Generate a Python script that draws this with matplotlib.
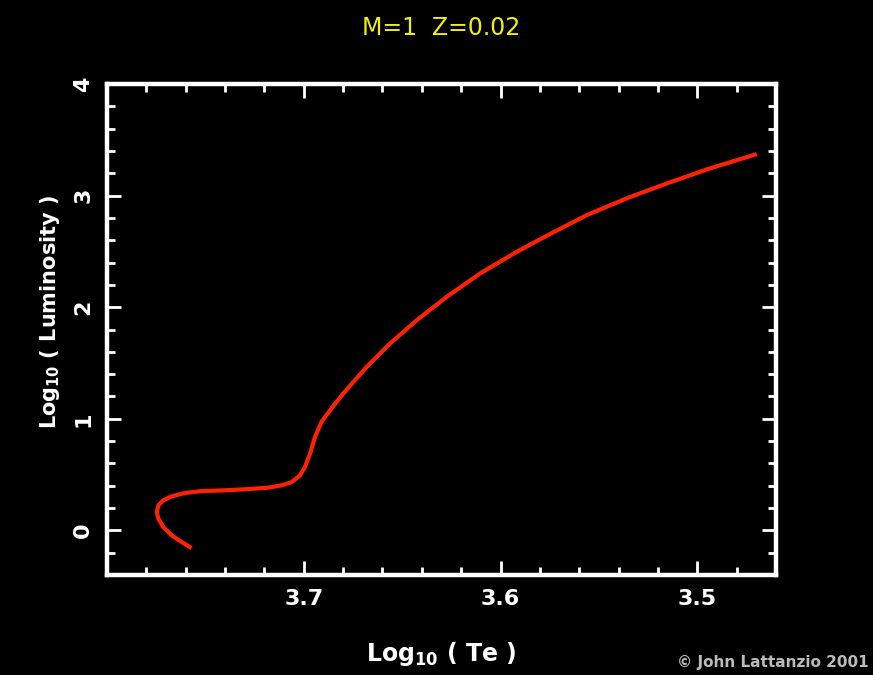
import matplotlib
matplotlib.use("Agg")
import matplotlib.pyplot as plt
from matplotlib.ticker import MultipleLocator, FixedLocator

plt.rcParams['font.family'] = ['DejaVu Sans']
plt.rcParams['mathtext.fontset'] = 'custom'
plt.rcParams['mathtext.bf'] = 'DejaVu Sans:bold'
plt.rcParams['mathtext.rm'] = 'DejaVu Sans:bold'
plt.rcParams['mathtext.default'] = 'bf'

# Track data
log_te = [3.757, 3.762, 3.7671, 3.7714, 3.7739, 3.7747, 3.7739, 3.7714,
          3.7671, 3.7604, 3.7519, 3.74, 3.7282, 3.718, 3.7112, 3.7061,
          3.7019, 3.6994, 3.6968, 3.6943, 3.6909, 3.685, 3.6799, 3.6748,
          3.668, 3.6562, 3.6426, 3.6274, 3.6104, 3.5918, 3.5749, 3.5562,
          3.5359, 3.5155, 3.4935, 3.4698]
log_l = [-0.159, -0.105, -0.045, 0.030, 0.105, 0.164, 0.224, 0.269,
         0.305, 0.335, 0.352, 0.359, 0.37, 0.383, 0.404, 0.433,
         0.493, 0.568, 0.688, 0.837, 0.975, 1.115, 1.226, 1.33,
         1.465, 1.674, 1.883, 2.092, 2.302, 2.496, 2.655, 2.825,
         2.975, 3.109, 3.244, 3.372]

x_ticks = [3.7, 3.6, 3.5]
x_tick_labels = ["3.7", "3.6", "3.5"]
y_ticks = [0, 1, 2, 3, 4]
y_tick_labels = ["0", "1", "2", "3", "4"]

title = "M=1  Z=0.02"
xlabel = r"Log$_{10}$ ( Te )"
ylabel = r"Log$_{10}$ ( Luminosity )"
credit = "\u00a9 John Lattanzio 2001"

fig = plt.figure(figsize=(8.73, 6.75), dpi=100, facecolor='black')
ax = fig.add_axes([107/873, 1 - 575/675, 669/873, 491/675], facecolor='black')

ax.plot(log_te, log_l, color='#ff2200', lw=3.0, solid_capstyle='butt',
        solid_joinstyle='round')

ax.set_xlim(3.8, 3.46)
ax.set_ylim(-0.4, 4.0)

ax.xaxis.set_major_locator(FixedLocator(x_ticks))
ax.set_xticklabels(x_tick_labels)
ax.xaxis.set_minor_locator(MultipleLocator(0.02))
ax.yaxis.set_major_locator(FixedLocator(y_ticks))
ax.set_yticklabels(y_tick_labels, rotation=90, va='center')
ax.yaxis.set_minor_locator(MultipleLocator(0.2))

for s in ax.spines.values():
    s.set_color('white')
    s.set_linewidth(3.2)

ax.tick_params(which='both', direction='in', top=True, right=True,
               color='white', labelcolor='white')
ax.tick_params(which='major', length=10, width=2.0, labelsize=16, pad=10)
ax.tick_params(which='minor', length=6, width=2.0)
for lab in ax.get_xticklabels() + ax.get_yticklabels():
    lab.set_fontweight('bold')

ax.set_xlabel(xlabel, color='white', fontsize=17, fontweight='bold')
ax.xaxis.set_label_coords(0.5, -0.132)
ax.set_ylabel(ylabel, color='white', fontsize=15, fontweight='bold')
ax.yaxis.set_label_coords(-0.068, 0.535)

fig.text(441/873, 1 - 28/675, title, color='#f2f200', fontsize=17,
         ha='center', va='center')
fig.text(677/873, 1 - 667/675, credit, color='#bbbbbb', fontsize=11,
         fontweight='bold', ha='left', va='baseline')

fig.savefig('out.png', dpi=100, facecolor='black')
